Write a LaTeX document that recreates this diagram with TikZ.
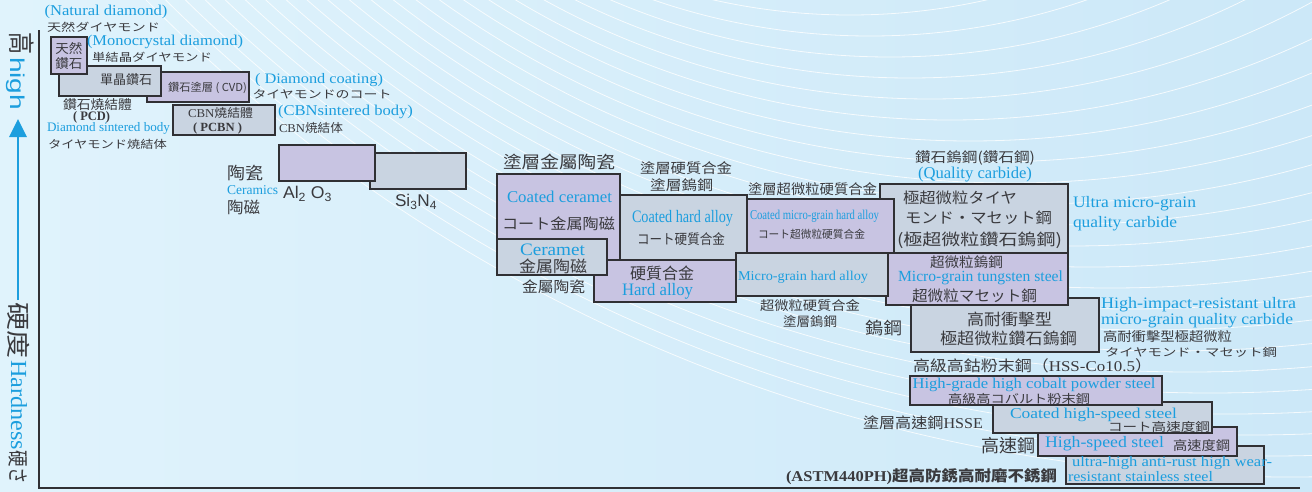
\documentclass[tikz,border=0pt]{standalone}
\usepackage{fontspec}
\usepackage{graphicx}
\usetikzlibrary{arrows.meta}
\setmainfont{Liberation Serif}
\newfontfamily\enf{Liberation Serif}
\newfontfamily\snf{Liberation Sans}
\newfontfamily\cjk{Noto Sans CJK TC}
\definecolor{cLav}{RGB}{200,196,226}
\definecolor{cGry}{RGB}{201,212,225}
\definecolor{cEdge}{RGB}{48,48,52}
\definecolor{cTxt}{RGB}{58,58,62}
\definecolor{cBlu}{RGB}{28,158,222}
\definecolor{bgL}{RGB}{224,243,252}
\definecolor{bgR}{RGB}{204,232,248}
\newsavebox\fwbox
\newcommand\fw[2]{\sbox\fwbox{#2}\pgfmathsetmacro\fwsx{#1/\the\wd\fwbox}\scalebox{\fwsx}[1]{\usebox\fwbox}}
\newcommand\txE[3]{\fw{#1}{\fontsize{#2}{#2}\selectfont\enf #3}}
\newcommand\txB[3]{\fw{#1}{\fontsize{#2}{#2}\selectfont\enf\bfseries #3}}
\newcommand\txC[3]{\fw{#1}{\fontsize{#2}{#2}\selectfont\cjk #3}}
\newcommand\txS[3]{\fw{#1}{\fontsize{#2}{#2}\selectfont\snf #3}}
\tikzset{
  lav/.style={fill=cLav, draw=cEdge, line width=1.4pt},
  gry/.style={fill=cGry, draw=cEdge, line width=1.4pt},
  lbl/.style={inner sep=0pt, outer sep=0pt, anchor=center},
  bl/.style={lbl, text=cBlu},
  dk/.style={lbl, text=cTxt},
  axisline/.style={draw=cEdge, line width=1.4pt},
  arcline/.style={draw=white, line width=0.8pt, opacity=0.8},
  hiarrow/.style={draw=cBlu, line width=2.8pt, -{Triangle[length=18pt,width=17pt]}}
}
\begin{document}
\begin{tikzpicture}[x=1pt,y=-1pt]
\useasboundingbox (0,0) rectangle (1312,491);
\fill[left color=bgL, right color=bgR] (0,0) rectangle (1312,491);
\begin{scope}
\clip (0,0) rectangle (1312,491);
\foreach \i in {0,...,22}{
  \pgfmathsetmacro\px{850+20*\i}
  \pgfmathsetmacro\py{15+21*\i}
  \pgfmathsetmacro\rr{620+45*\i}
  \draw[arcline] (\px,\py-\rr) circle[radius=\rr pt];
}
\end{scope}
% axes
\coordinate (ax0) at (39,30);
\coordinate (ax1) at (39,488);
\coordinate (ax2) at (1300,488);
\draw[axisline] (ax0) -- (ax1) -- (ax2);
\coordinate (ha0) at (18,300);
\coordinate (ha1) at (18,119);
\draw[hiarrow] (ha0) -- (ha1);
\node[dk, rotate=-90] (gao) at (22,43) {\txC{22}{27}{高}};
\node[bl, rotate=-90] (high) at (16,83.5) {\txS{53}{20}{high}};
\node[dk, rotate=-90] (yingdu) at (18.5,330) {\txC{56}{24}{硬度}};
\node[bl, rotate=-90] (hard) at (19,405) {\txE{90}{23}{Hardness}};
\node[dk, rotate=-90] (yingsa) at (18,467) {\txC{33}{21}{硬さ}};
% boxes
\draw[lav] (147,72) rectangle (249,102);
\draw[gry] (59,66) rectangle (161,96);
\draw[lav] (51,37) rectangle (87,74);
\draw[gry] (173,105) rectangle (275,135);
\draw[gry] (370,153) rectangle (466,189);
\draw[lav] (279,145) rectangle (375,181);
\draw[lav] (594,260) rectangle (736,302);
\draw[lav] (497,174) rectangle (620,260);
\draw[gry] (620,195) rectangle (747,260);
\draw[gry] (497,239) rectangle (607,275);
\draw[gry] (911,298) rectangle (1099,352);
\draw[lav] (886,253) rectangle (1068,305);
\draw[gry] (880,184) rectangle (1068,253);
\draw[gry] (736,253) rectangle (888,296);
\draw[lav] (747,199) rectangle (894,253);
\draw[gry] (1066,446) rectangle (1264,484);
\draw[lav] (1038,427) rectangle (1237,456);
\draw[gry] (993,402) rectangle (1212,433);
\draw[lav] (910,376) rectangle (1162,405);
% top-left texts
\node[bl] (t1) at (106,12) {\txE{123}{15}{(Natural diamond)}};
\node[dk] (t2) at (103.5,27) {\txC{113}{11}{天然ダイヤモンド}};
\node[dk] (t3a) at (69,49) {\txC{27}{13}{天然}};
\node[dk] (t3b) at (69,64) {\txC{27}{13}{鑽石}};
\node[bl] (t4) at (165,42) {\txE{156}{15}{(Monocrystal diamond)}};
\node[dk] (t5) at (152,57) {\txC{120}{11}{単結晶ダイヤモンド}};
\node[dk] (t6) at (126,80) {\txC{52}{13}{單晶鑽石}};
\node[dk] (t7) at (207.5,88) {\txC{79}{11}{鑽石塗層 ( CVD)}};
\node[bl] (t8) at (319,80) {\txE{128}{14.5}{( Diamond coating)}};
\node[dk] (t9) at (322,94) {\txC{139}{11}{タイヤモンドのコート}};
\node[dk] (t10) at (97.5,105) {\txC{69}{13}{鑽石燒結體}};
\node[dk] (t11) at (91.5,117) {\txB{37}{13}{( PCD)}};
\node[bl] (t12) at (108.5,128) {\txE{123}{13}{Diamond sintered body}};
\node[dk] (t13) at (107.5,144) {\txC{119}{11}{タイヤモンド焼結体}};
\node[dk] (t14) at (220.5,113) {\txC{65}{12}{{\enf CBN}燒結體}};
\node[dk] (t15) at (217.5,128) {\txB{49}{12.5}{( PCBN )}};
\node[bl] (t16) at (345.5,112) {\txE{135}{15}{(CBNsintered body)}};
\node[dk] (t17) at (311,128) {\txC{64}{12}{{\enf CBN}焼結体}};
% ceramics
\node[dk] (t24) at (245,173) {\txC{36}{17}{陶瓷}};
\node[bl] (t25) at (252.5,190) {\txE{51}{13.5}{Ceramics}};
\node[dk] (t26) at (243.5,207) {\txC{33}{16}{陶磁}};
\node[dk] (t27) at (307.5,194) {\txS{49}{17}{Al\textsubscript{2} O\textsubscript{3}}};
\node[dk] (t28) at (416,202) {\txS{42}{17}{Si\textsubscript{3}N\textsubscript{4}}};
% cermet / hard alloy
\node[dk] (t29) at (559,162) {\txC{112}{17}{塗層金屬陶瓷}};
\node[bl] (t30) at (559.5,197) {\txE{105}{16.5}{Coated ceramet}};
\node[dk] (t31) at (558.5,224) {\txC{113}{15}{コート金属陶磁}};
\node[bl] (t32) at (552.5,250) {\txE{65}{17.5}{Ceramet}};
\node[dk] (t33) at (553,266) {\txC{68}{16}{金属陶磁}};
\node[dk] (t34) at (553.5,287) {\txC{63}{15}{金屬陶瓷}};
\node[dk] (t35) at (686,168) {\txC{92}{14}{塗層硬質合金}};
\node[dk] (t36) at (681.5,185) {\txC{63}{14}{塗層鎢鋼}};
\node[bl] (t37) at (682.5,218) {\txE{101}{17.5}{Coated hard alloy}};
\node[dk] (t38) at (681,239) {\txC{88}{14}{コート硬質合金}};
\node[dk] (t39) at (662,273) {\txC{64}{16}{硬質合金}};
\node[bl] (t40) at (657.5,291) {\txE{71}{17.5}{Hard alloy}};
\node[dk] (t41) at (812.5,189) {\txC{129}{14}{塗層超微粒硬質合金}};
\node[bl] (t42) at (814.5,216) {\txE{129}{13.5}{Coated micro-grain hard alloy}};
\node[dk] (t43) at (811.5,234) {\txC{107}{11}{コート超微粒硬質合金}};
\node[bl] (t44) at (803,277) {\txE{130}{13.5}{Micro-grain hard alloy}};
\node[dk] (t45) at (810,306) {\txC{100}{13}{超微粒硬質合金}};
\node[dk] (t46) at (810,322) {\txC{54}{13}{塗層鎢鋼}};
\node[dk] (t47) at (883.5,328) {\txC{37}{17}{鎢鋼}};
% carbide
\node[dk] (t48) at (975,158) {\txC{120}{14}{鑽石鎢鋼(鑽石鋼)}};
\node[bl] (t49) at (975,175) {\txE{114}{16.5}{(Quality carbide)}};
\node[dk] (t50) at (960,198) {\txC{114}{15}{極超微粒タイヤ}};
\node[dk] (t51) at (978.5,218) {\txC{147}{15}{モンド・マセット鋼}};
\node[dk] (t52) at (979.5,240) {\txC{165}{16}{(極超微粒鑽石鎢鋼)}};
\node[bl] (t53) at (1134.5,204) {\txE{123}{16}{Ultra micro-grain}};
\node[bl] (t54) at (1125,224) {\txE{104}{16}{quality carbide}};
\node[dk] (t55) at (966.5,262) {\txC{73}{14}{超微粒鎢鋼}};
\node[bl] (t56) at (980.5,278) {\txE{165}{15.5}{Micro-grain tungsten steel}};
\node[dk] (t57) at (974.5,296) {\txC{125}{15}{超微粒マセット鋼}};
\node[dk] (t58) at (1009.5,319) {\txC{85}{16}{高耐衝擊型}};
\node[dk] (t59) at (1008.5,338) {\txC{137}{16}{極超微粒鑽石鎢鋼}};
\node[bl] (t60) at (1198.5,305) {\txE{195}{16}{High-impact-resistant ultra}};
\node[bl] (t61) at (1197,321) {\txE{192}{16}{micro-grain quality carbide}};
\node[dk] (t62) at (1167.5,337) {\txC{129}{13}{高耐衝擊型極超微粒}};
\node[dk] (t63) at (1191,352) {\txC{172}{11}{タイヤモンド・マセット鋼}};
% HSS
\node[dk] (t64) at (1032.5,366) {\txC{239}{15}{高級高鈷粉末鋼（{\enf HSS-Co10.5}）}};
\node[bl] (t65) at (1034,385) {\txE{243}{15}{High-grade high cobalt powder steel}};
\node[dk] (t66) at (1019,399) {\txC{142}{12}{高級高コバルト粉末鋼}};
\node[dk] (t67) at (923,423) {\txC{120}{15}{塗層高速鋼{\enf HSSE}}};
\node[bl] (t68) at (1093.5,415) {\txE{167}{15}{Coated high-speed steel}};
\node[dk] (t69) at (1159,427) {\txC{102}{12}{コート高速度鋼}};
\node[bl] (t70) at (1104.5,444) {\txE{119}{16}{High-speed steel}};
\node[dk] (t71) at (1201.5,446) {\txC{57}{13}{高速度鋼}};
\node[dk] (t72) at (1008,446) {\txC{54}{18}{高速鋼}};
\node[bl] (t73) at (1172,463) {\txE{200}{14.5}{ultra-high anti-rust high wear-}};
\node[bl] (t74) at (1140.5,477) {\txE{145}{14.5}{resistant stainless steel}};
\node[dk] (t75) at (921.5,477) {\txC{271}{15}{{\enf\bfseries (ASTM440PH)}\bfseries 超高防銹高耐磨不銹鋼}};
\end{tikzpicture}
\end{document}
